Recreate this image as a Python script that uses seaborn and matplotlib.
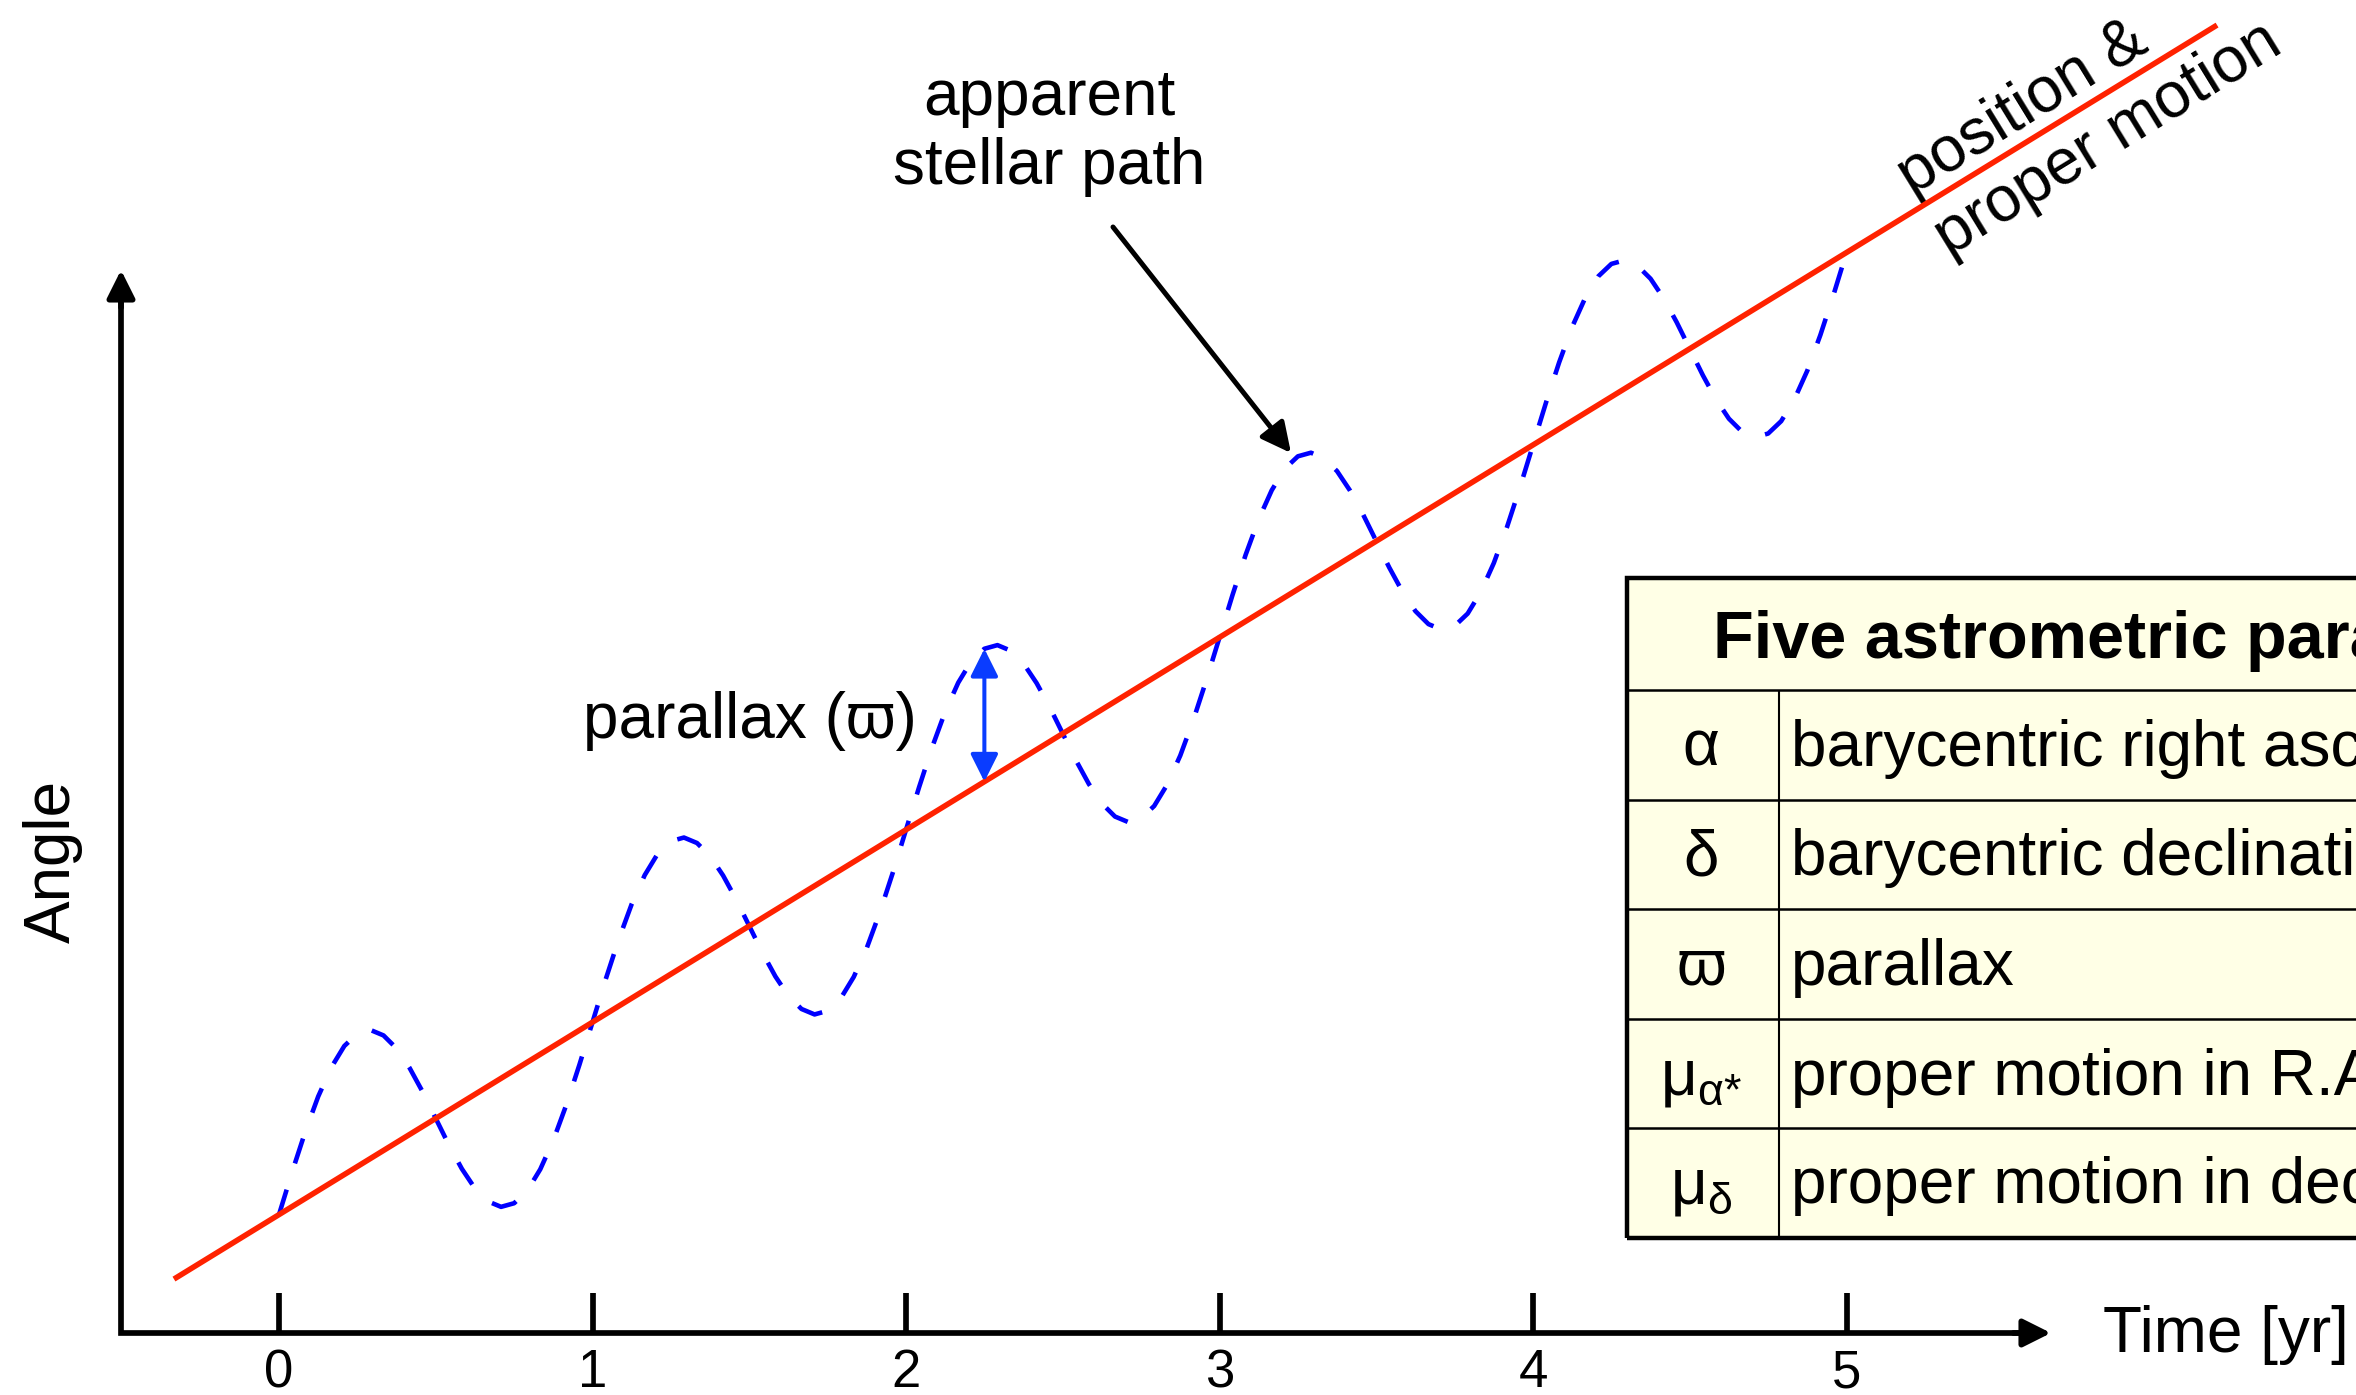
import numpy as np
import matplotlib
matplotlib.use("Agg")
import matplotlib.pyplot as plt
import seaborn as sns
from matplotlib.patches import Rectangle

# ---------------- data ----------------
years = [0, 1, 2, 3, 4, 5]
tick_labels = ["0", "1", "2", "3", "4", "5"]

# straight "position & proper motion" line (time [yr], angle)
trend_time = [-0.335, 6.182]
trend_angle = [0.172, 4.172]

# parallax displacement of the apparent path from the straight line,
# sampled every 1/24 yr within one year (same every year)
phase = [k / 24 for k in range(24)]
parallax_offset = [0.000, 0.110, 0.212, 0.300, 0.367, 0.410, 0.424, 0.410,
                   0.367, 0.300, 0.212, 0.110, 0.000, -0.110, -0.212, -0.300,
                   -0.367, -0.410, -0.424, -0.410, -0.367, -0.300, -0.212, -0.110]
parallax_amplitude = 0.424
parallax_marker_time = 2.25

table_title = "Five astrometric parameters"
table_symbols = ["α", "δ", "ϖ", r"$\mathregular{μ_{α{*}}}$", r"$\mathregular{μ_{δ}}$"]
table_descriptions = ["barycentric right ascension", "barycentric declination",
                      "parallax", "proper motion in R.A.", "proper motion in declination"]

# ---------------- derived series ----------------
path_time = [y + p for y in years[:-1] for p in phase] + [years[-1]]
path_offset = parallax_offset * (len(years) - 1) + [parallax_offset[0]]
path_angle = np.interp(path_time, trend_time, trend_angle) + np.array(path_offset)

# ---------------- style ----------------
sns.set_theme(style="white")
plt.rcParams["font.family"] = ["Liberation Sans", "DejaVu Sans"]
plt.rcParams["text.color"] = "black"
plt.rcParams["mathtext.fontset"] = "custom"
plt.rcParams["mathtext.rm"] = "Liberation Sans"

W, H = 2356, 1395
fig = plt.figure(figsize=(W / 100, H / 100), dpi=100)
ax = fig.add_axes([0, 0, 1, 1])

X0, XS, Y0 = 279.0, 313.5, 1333.0   # pixel of t=0, pixels per unit, pixel of angle=0


def P(px, py):
    """layout helper: reference pixel -> data coords"""
    return (px - X0) / XS, (Y0 - py) / XS


ax.set_xlim(P(0, 0)[0], P(W, 0)[0])
ax.set_ylim(P(0, H)[1], P(0, 0)[1])
ax.axis("off")

FS = 46
BLUE = "#0000ff"
RED = "#ff2200"
AX_LW = 4.1

# ---------------- table (drawn first, behind) ----------------
tl, tt = P(1627, 578)
tr, tb = P(2600, 1238)
_, title_bottom = P(0, 690)
row_px = [690, 799.5, 909, 1019, 1128, 1238]
row_v = [P(0, r)[1] for r in row_px]
colx, _ = P(1779, 0)
ax.add_patch(Rectangle((tl, tb), tr - tl, tt - tb, facecolor="#ffffe6",
                       edgecolor="none", zorder=1))
ax.hlines(row_v[1:-1], tl, tr, color="black", lw=1.8, zorder=2)
ax.hlines([title_bottom], tl, tr, color="black", lw=1.8, zorder=2)
ax.vlines([colx], tb, title_bottom, color="black", lw=1.5, zorder=2)
ax.add_patch(Rectangle((tl, tb), tr - tl, tt - tb, facecolor="none",
                       edgecolor="black", lw=3.2, zorder=3, joinstyle="miter"))
tx, ty = P(1713, 658)
ax.text(tx, ty, table_title, fontsize=48, fontweight="bold", ha="left",
        va="baseline", zorder=4)
symx, _ = P(1701, 0)
descx, _ = P(1791, 0)
for i, (s, d) in enumerate(zip(table_symbols, table_descriptions)):
    _, by = P(0, row_px[i] + 75.5)
    ax.text(symx, by, s, fontsize=FS, ha="center", va="baseline", zorder=4)
    ax.text(descx, by, d, fontsize=FS, ha="left", va="baseline", zorder=4)

# ---------------- curves ----------------
sns.lineplot(x=path_time, y=path_angle, color=BLUE, linewidth=3.3, ax=ax,
             estimator=None, errorbar=None, sort=False, legend=False, zorder=5)
blue_line = ax.lines[-1]
blue_line.set_linewidth(3.3)
blue_line.set_linestyle((0, (5.7, 6.0)))
blue_line.set_dash_capstyle("butt")

sns.lineplot(x=trend_time, y=trend_angle, color=RED, linewidth=4.0, ax=ax,
             estimator=None, errorbar=None, sort=False, legend=False, zorder=6)
red_line = ax.lines[-1]
red_line.set_linewidth(4.0)
red_line.set_solid_capstyle("butt")

# ---------------- axes with arrows ----------------
ax_x, _ = P(121, 0)
_, ay_top = P(0, 270)
ax_xend, _ = P(2051, 0)
ax.plot([ax_x, ax_x, ax_xend - 0.05], [ay_top - 0.05, 0, 0], color="black",
        lw=AX_LW, solid_joinstyle="miter", solid_capstyle="butt", zorder=7)
ax.annotate("", xy=(ax_x, ay_top), xytext=(ax_x, ay_top - 0.12),
            arrowprops=dict(arrowstyle="-|>", lw=AX_LW, color="black",
                            mutation_scale=42, shrinkA=0, shrinkB=0), zorder=7)
ax.annotate("", xy=(ax_xend, 0), xytext=(ax_xend - 0.12, 0),
            arrowprops=dict(arrowstyle="-|>", lw=AX_LW, color="black",
                            mutation_scale=42, shrinkA=0, shrinkB=0), zorder=7)
tick_h = 40 / XS
ax.vlines(years, 0, tick_h, color="black", lw=AX_LW, zorder=7)
for yv, lab in zip(years, tick_labels):
    ax.text(yv, P(0, 1373)[1], lab, fontsize=38, ha="center", va="center")

ax.text(*P(2103, 1335), "Time [yr]", fontsize=FS, ha="left", va="center")
ax.text(*P(53, 861), "Angle", fontsize=FS, ha="center", va="center", rotation=90)

# ---------------- annotations ----------------
ax.text(*P(1049, 132.5), "apparent\nstellar path", fontsize=FS, ha="center",
        va="center", linespacing=1.2)
ax.annotate("", xy=P(1291, 453), xytext=P(1113, 227),
            arrowprops=dict(arrowstyle="-|>", lw=3.6, color="black",
                            mutation_scale=45, shrinkA=0, shrinkB=0), zorder=8)

ang = np.degrees(np.arctan2(trend_angle[1] - trend_angle[0],
                            trend_time[1] - trend_time[0]))
ax.text(*P(1922, 212), "position &\nproper motion", fontsize=FS,
        ha="left", va="center", rotation=ang, rotation_mode="anchor",
        multialignment="left", linespacing=1.25)

base = float(np.interp(parallax_marker_time, trend_time, trend_angle))
ax.annotate("", xy=(parallax_marker_time, base + parallax_amplitude),
            xytext=(parallax_marker_time, base),
            arrowprops=dict(arrowstyle="<|-|>", lw=2.9, color="#0a3cff",
                            mutation_scale=42, shrinkA=0, shrinkB=0), zorder=8)
ax.text(*P(917, 721), "parallax (ϖ)", fontsize=FS, ha="right", va="center")

fig.savefig("out.png", dpi=100)
